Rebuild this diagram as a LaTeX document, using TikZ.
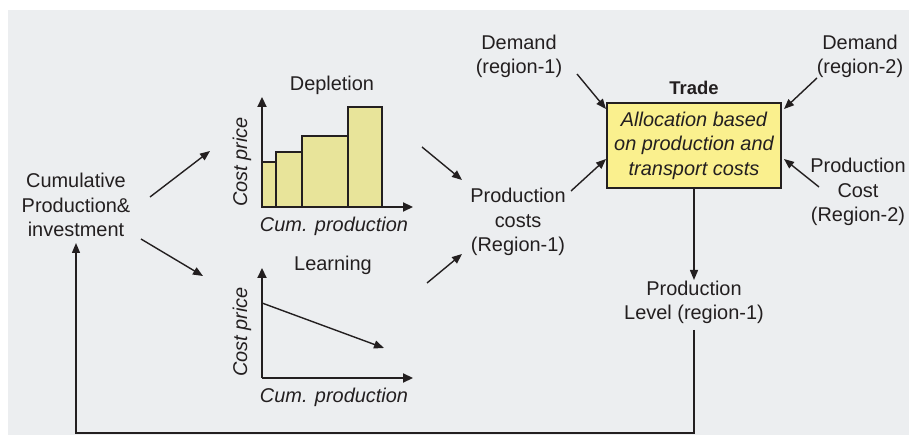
\documentclass[tikz,border=0pt]{standalone}
\usepackage{fontspec}
\setmainfont{Liberation Sans}
\usetikzlibrary{arrows.meta}
\definecolor{bgpanel}{HTML}{ECEEF0}
\definecolor{ink}{HTML}{231F20}
\definecolor{boxfill}{HTML}{FAF08E}
\definecolor{barfill}{HTML}{E8E49A}
\begin{document}
\begin{tikzpicture}[x=1bp,y=-1bp,
  every node/.style={text=ink, font=\fontsize{20}{24.5}\selectfont, align=center, inner sep=0pt},
  arr/.style={draw=ink, line width=1.4bp, -{Triangle[length=10bp,width=8bp]}},
  axis/.style={draw=ink, line width=2.2bp, -{Triangle[length=10bp,width=9bp]}},
  bar/.style={draw=ink, fill=barfill, line width=1.8bp},
  lbl/.style={font=\fontsize{20}{24.5}\selectfont\itshape},
]
\useasboundingbox (0,0) rectangle (909,435);
\fill[bgpanel] (8,10) rectangle (909,435);

% trade box and the inputs around it
\node[draw=ink, fill=boxfill, line width=1.2bp, minimum width=174bp, minimum height=85bp,
      font=\fontsize{20}{24.5}\selectfont\itshape] (alloc) at (694,145.5)
  {Allocation based\\on production and\\transport costs};
\node[font=\fontsize{18.5}{22}\selectfont\bfseries] (trade) at (694,88) {Trade};
\node (demand1) at (519,56.5) {Demand\\(region-1)};
\node (demand2) at (860,56.5) {Demand\\(region-2)};
\node (pc2) at (858,192) {Production\\Cost\\(Region-2)};
\node (pc1) at (518,222) {Production\\costs\\(Region-1)};
\node (level) at (694,302.5) {Production\\Level (region-1)};
\node (cum) at (76,205) {Cumulative\\Production\&\\investment};

% depletion chart
\coordinate (dep) at (262,207);
\draw[bar] (262,207) rectangle (276,162);
\draw[bar] (276,207) rectangle (302,152);
\draw[bar] (302,207) rectangle (348,136);
\draw[bar] (348,207) rectangle (382,107);
\draw[axis] (dep) -- ++(0,-110);
\draw[axis] (dep) -- ++(151,0);
\node (deptitle) at (332,85) {Depletion};
\node[lbl, rotate=90] (depy) at (242,162) {Cost price};
\node[lbl] (depx) at (334,226) {Cum. production};

% learning chart
\coordinate (lrn) at (262,378);
\draw[axis] (lrn) -- ++(0,-110);
\draw[axis] (lrn) -- ++(151,0);
\draw[arr] (262,303) -- (384,348);
\node (lrntitle) at (333,265) {Learning};
\node[lbl, rotate=90] (lrny) at (242,332) {Cost price};
\node[lbl] (lrnx) at (334,397) {Cum. production};

% connectors
\draw[arr] ([shift={(58,17.5)}]demand1.center) -- ([shift={(-88,-36.5)}]alloc.center);
\draw[arr] ([shift={(-43,21.5)}]demand2.center) -- ([shift={(90,-36.5)}]alloc.center);
\draw[arr] ([shift={(-39,-5)}]pc2.center) -- ([shift={(90,13.5)}]alloc.center);
\draw[arr] ([shift={(53,-31)}]pc1.center) -- ([shift={(-88,13.5)}]alloc.center);
\draw[arr] (alloc.south) -- ([shift={(0,-22.5)}]level.center);
\draw[arr] ([shift={(0,27.5)}]level.center) -- ++(0,103) -| ([shift={(0,38)}]cum.center);
\draw[arr] ([shift={(74,-8)}]cum.center) -- ([shift={(-52,-56)}]dep);
\draw[arr] ([shift={(65,34)}]cum.center) -- ([shift={(-59,-102)}]lrn);
\draw[arr] ([shift={(160,-60)}]dep) -- ([shift={(-56,-42)}]pc1.center);
\draw[arr] ([shift={(165,-95)}]lrn) -- ([shift={(-56,32)}]pc1.center);
\end{tikzpicture}
\end{document}
